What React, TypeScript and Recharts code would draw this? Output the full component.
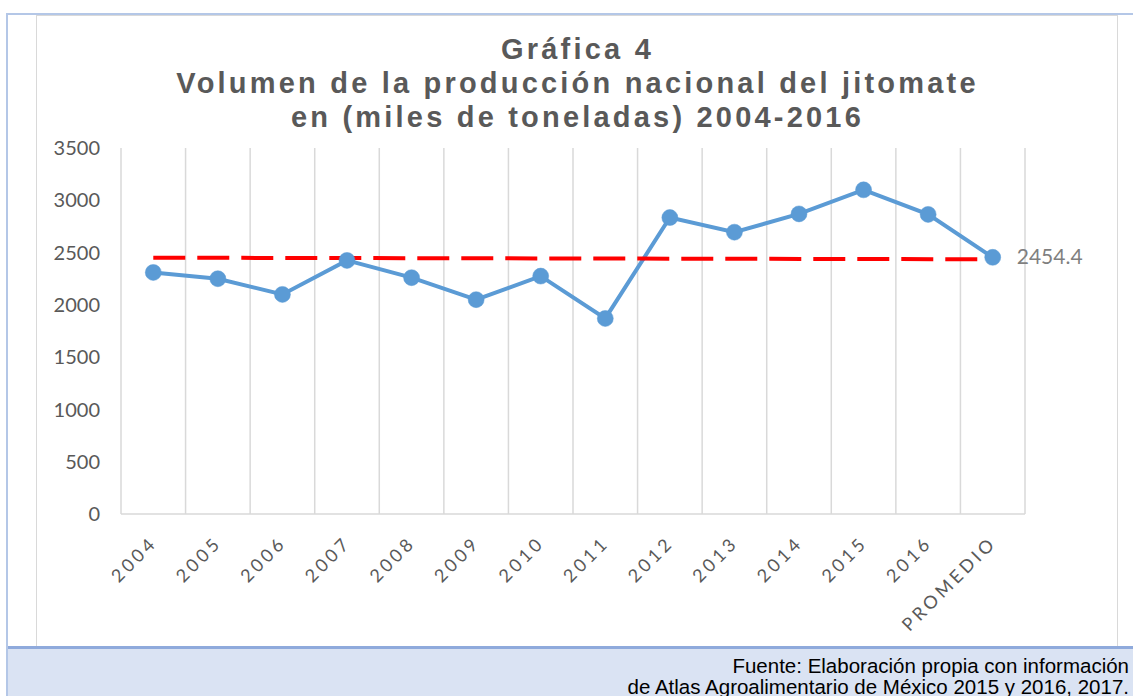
import React from 'react';
import { LineChart, Line, XAxis, YAxis, CartesianGrid, LabelList } from 'recharts';

const categories = ['2004', '2005', '2006', '2007', '2008', '2009', '2010', '2011', '2012', '2013', '2014', '2015', '2016', 'PROMEDIO'];
const volumen = [2310, 2250, 2100, 2425, 2260, 2050, 2275, 1870, 2835, 2695, 2870, 3100, 2865, 2454.4];
const promedioTrend: (number | null)[] = [2451, null, null, null, null, null, null, null, null, null, null, null, null, 2436];
const yTicks = [0, 500, 1000, 1500, 2000, 2500, 3000, 3500];
const titleLines = ['Gráfica 4', 'Volumen de la producción nacional del jitomate', 'en (miles de toneladas) 2004-2016'];
const sourceLines = ['Fuente: Elaboración propia con información', 'de Atlas Agroalimentario de México 2015 y 2016, 2017.'];

const data = categories.map((c, i) => ({ cat: c, volumen: volumen[i], promedio: promedioTrend[i] }));

const XTick = (props: any) => {
  const { x, y, payload } = props;
  const ax = x + 5;
  const ay = y + 30;
  return (
    <text x={ax} y={ay} transform={`rotate(-45 ${ax} ${ay})`} textAnchor="end" fill="#595959" fontFamily="Lato" fontSize={18} letterSpacing={3.5}>
      {payload.value}
    </text>
  );
};

const LastLabel = (props: any) => {
  const { x, y, value, index } = props;
  if (index !== categories.length - 1) return null;
  return (
    <text x={x + 24} y={y + 7} fill="#7f7f7f" fontFamily="Lato" fontSize={21}>
      {value}
    </text>
  );
};

const gridGen = (args: any) => {
  const { offset } = args;
  const n = categories.length;
  return Array.from({ length: n + 1 }, (_, i) => offset.left + (i * offset.width) / n);
};

export default function App() {
  return (
    <div style={{ position: 'absolute', left: 0, top: 0, width: 1133, height: 696, overflow: 'hidden', background: '#ffffff' }}>
      <div style={{ position: 'absolute', left: 6, top: 13, width: 1127, height: 2, background: '#b4c7e7' }} />
      <div style={{ position: 'absolute', left: 6, top: 13, width: 2, height: 683, background: '#b4c7e7' }} />
      <div style={{ position: 'absolute', left: 36, top: 15, width: 1082, height: 632, border: '1.5px solid #d9d9d9', boxSizing: 'border-box' }} />
      <div style={{ position: 'absolute', left: 8, top: 646, width: 1125, height: 50, background: '#dae3f3', borderTop: '3px solid #8faadc', boxSizing: 'border-box' }} />
      <div style={{ position: 'absolute', left: 36, top: 14 }}>
        <LineChart width={1081} height={632} data={data} margin={{ top: 134, right: 92, bottom: 102, left: 0 }}>
          <CartesianGrid horizontal={false} stroke="#d9d9d9" strokeWidth={1.5} verticalCoordinatesGenerator={gridGen} />
          <XAxis dataKey="cat" scale="band" height={30} interval={0} tick={<XTick />} tickLine={false} tickSize={0} tickMargin={0} axisLine={{ stroke: '#d9d9d9', strokeWidth: 1.5 }} />
          <YAxis domain={[0, 3500]} ticks={yTicks} axisLine={false} tickLine={false} tickSize={0} tickMargin={21} width={85} tick={{ fill: '#595959', fontSize: 20, fontFamily: 'Lato' }} />
          <Line dataKey="volumen" stroke="#5b9bd5" strokeWidth={4} dot={{ r: 8, fill: '#5b9bd5', stroke: '#5b9bd5', strokeWidth: 0.5 }} activeDot={false} isAnimationActive={false}>
            <LabelList dataKey="volumen" content={<LastLabel />} />
          </Line>
          <Line dataKey="promedio" stroke="#ff0000" strokeWidth={4} strokeDasharray="32 12" dot={false} activeDot={false} connectNulls isAnimationActive={false} />
        </LineChart>
      </div>
      <svg width={1133} height={696} style={{ position: 'absolute', left: 0, top: 0, pointerEvents: 'none' }}>
        {titleLines.map((t, i) => (
          <text key={i} x={577.5} y={59 + i * 34} textAnchor="middle" fontFamily="'Liberation Sans', Arial, sans-serif" fontWeight="bold" fontSize={29} letterSpacing={3.2} fill="#595959">
            {t}
          </text>
        ))}
        {sourceLines.map((t, i) => (
          <text key={i} x={1129} y={673 + i * 21} textAnchor="end" fontFamily="'Liberation Sans', Arial, sans-serif" fontSize={20.5} fill="#000000">
            {t}
          </text>
        ))}
      </svg>
    </div>
  );
}
